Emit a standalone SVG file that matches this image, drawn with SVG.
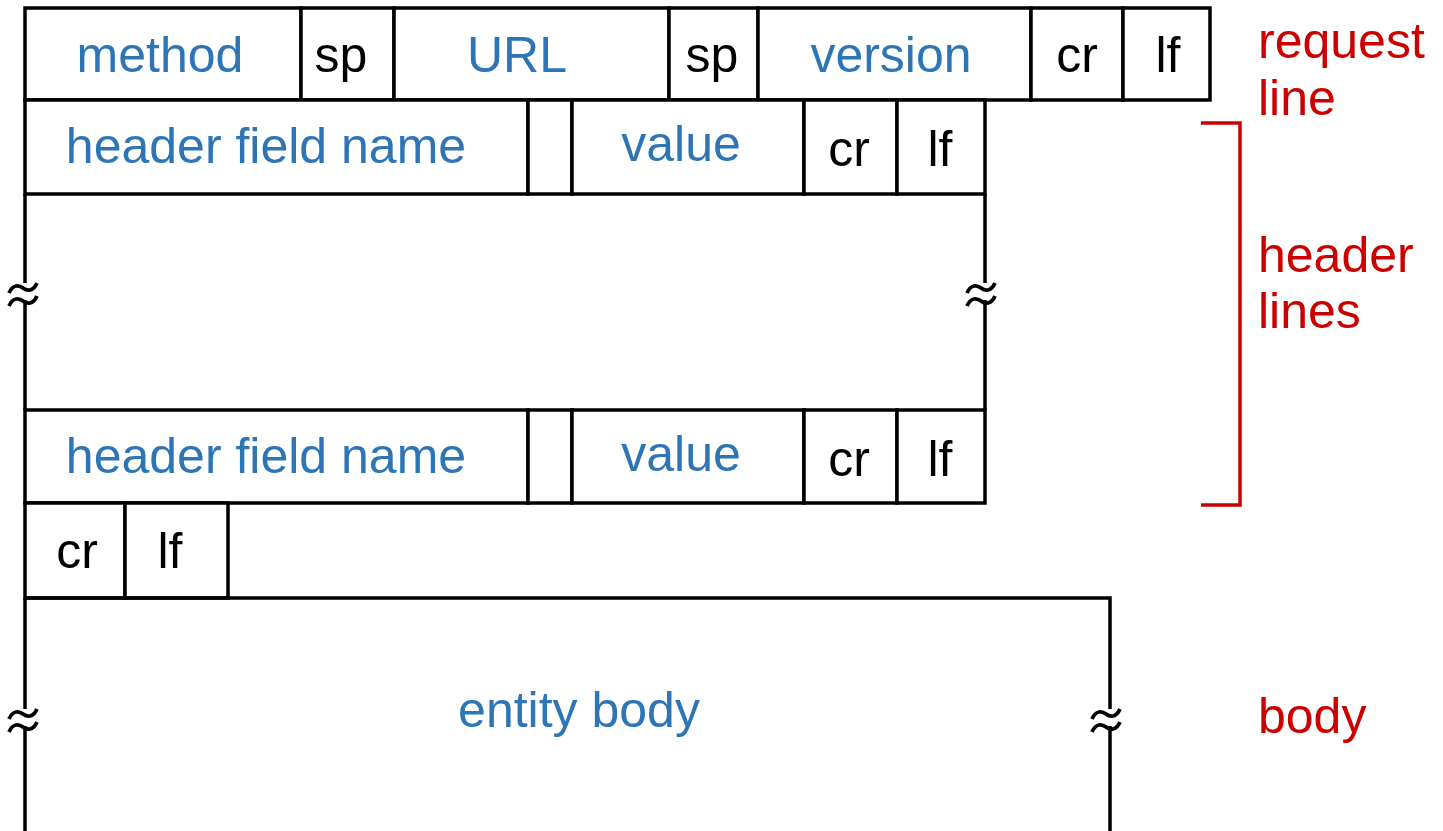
<svg xmlns="http://www.w3.org/2000/svg" width="1443" height="831" viewBox="0 0 1443 831">
  <style>
    .box { fill: #ffffff; stroke: #000000; stroke-width: 3.5; }
    .edge { fill: none; stroke: #000000; stroke-width: 3.5; }
    .brk { fill: none; stroke: #000000; stroke-width: 3.8; stroke-linecap: butt; }
    .brace { fill: none; stroke: #cc0000; stroke-width: 3.5; }
    text { font-family: "Liberation Sans", Arial, sans-serif; font-size: 50px; }
    .fld { fill: #2e75b6; text-anchor: middle; }
    .ctl { fill: #000000; text-anchor: middle; }
    .lbl { fill: #cc0000; }
  </style>
  <defs>
    <!-- single wavy stroke of a break mark -->
    <path id="tilde" class="brk" d="M-14,5 C-10,-4 -4,-3 0,0 C4,3 10,4 14,-5"/>
  </defs>

  <!-- request line -->
  <g id="request-line">
    <rect class="box" x="25" y="8" width="276" height="92"/>
    <rect class="box" x="301" y="8" width="93" height="92"/>
    <rect class="box" x="394" y="8" width="275" height="92"/>
    <rect class="box" x="669" y="8" width="89" height="92"/>
    <rect class="box" x="758" y="8" width="273" height="92"/>
    <rect class="box" x="1031" y="8" width="92" height="92"/>
    <rect class="box" x="1123" y="8" width="87" height="92"/>
    <text class="fld" x="160" y="72">method</text>
    <text class="ctl" x="341" y="72">sp</text>
    <text class="fld" x="517" y="72">URL</text>
    <text class="ctl" x="712" y="72">sp</text>
    <text class="fld" x="891" y="72">version</text>
    <text class="ctl" x="1077" y="72">cr</text>
    <text class="ctl" x="1168" y="72">lf</text>
  </g>

  <!-- first header line -->
  <g id="header-line-1">
    <rect class="box" x="25" y="100" width="503" height="94"/>
    <rect class="box" x="528" y="100" width="44" height="94"/>
    <rect class="box" x="572" y="100" width="232" height="94"/>
    <rect class="box" x="804" y="100" width="93" height="94"/>
    <rect class="box" x="897" y="100" width="88" height="94"/>
    <text class="fld" x="266" y="163">header field name</text>
    <text class="fld" x="681" y="161">value</text>
    <text class="ctl" x="849" y="166">cr</text>
    <text class="ctl" x="940" y="166">lf</text>
  </g>

  <!-- elided header lines -->
  <g id="header-gap">
    <path class="edge" d="M25,194 V283 M25,300 V410"/>
    <path class="edge" d="M985,194 V283 M985,300 V410"/>
    <use href="#tilde" x="23" y="288"/>
    <use href="#tilde" x="23" y="301"/>
    <use href="#tilde" x="981" y="288"/>
    <use href="#tilde" x="981" y="301"/>
  </g>

  <!-- last header line -->
  <g id="header-line-n">
    <rect class="box" x="25" y="410" width="503" height="93"/>
    <rect class="box" x="528" y="410" width="44" height="93"/>
    <rect class="box" x="572" y="410" width="232" height="93"/>
    <rect class="box" x="804" y="410" width="93" height="93"/>
    <rect class="box" x="897" y="410" width="88" height="93"/>
    <text class="fld" x="266" y="473">header field name</text>
    <text class="fld" x="681" y="471">value</text>
    <text class="ctl" x="849" y="476">cr</text>
    <text class="ctl" x="940" y="476">lf</text>
  </g>

  <!-- blank line -->
  <g id="blank-line">
    <rect class="box" x="25" y="503" width="100" height="95"/>
    <rect class="box" x="125" y="503" width="103" height="95"/>
    <text class="ctl" x="77" y="568">cr</text>
    <text class="ctl" x="170" y="568">lf</text>
  </g>

  <!-- entity body -->
  <g id="entity-body">
    <path class="edge" d="M25,598 H1110 V709 M1110,726 V831"/>
    <path class="edge" d="M25,598 V709 M25,726 V831"/>
    <use href="#tilde" x="23" y="714"/>
    <use href="#tilde" x="23" y="727"/>
    <use href="#tilde" x="1106" y="714"/>
    <use href="#tilde" x="1106" y="727"/>
    <text class="fld" x="579" y="727">entity body</text>
  </g>

  <!-- section labels -->
  <g id="labels">
    <path class="brace" d="M1201,123 H1240 V505 H1201"/>
    <text class="lbl" x="1258" y="58">request</text>
    <text class="lbl" x="1258" y="115">line</text>
    <text class="lbl" x="1258" y="272">header</text>
    <text class="lbl" x="1258" y="328">lines</text>
    <text class="lbl" x="1258" y="733">body</text>
  </g>
</svg>
